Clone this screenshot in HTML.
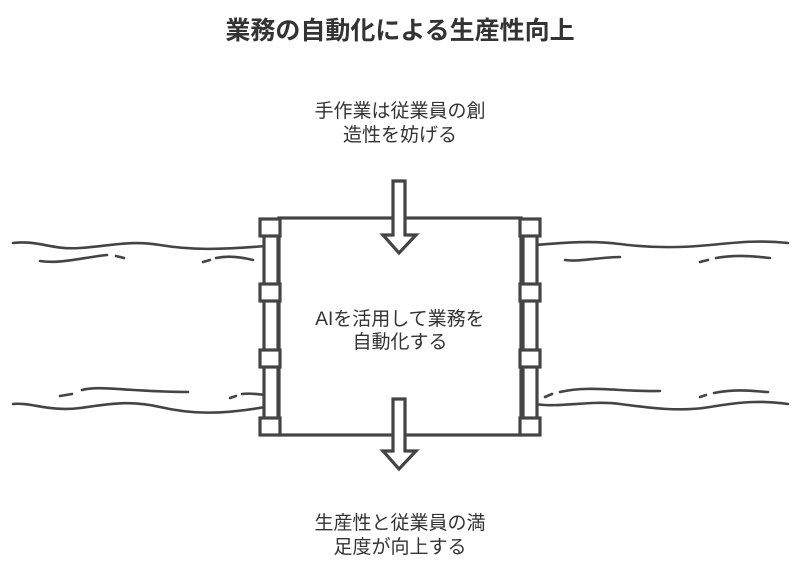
<!DOCTYPE html>
<html><head><meta charset="utf-8"><style>
body{margin:0;background:#fff;}
svg{display:block}
text{font-family:"Liberation Sans","Noto Sans CJK JP",sans-serif;fill:#333;text-anchor:middle}
</style></head><body>
<svg width="800" height="568" viewBox="0 0 800 568">
<g fill="none" stroke="#444" stroke-width="2.6" stroke-linecap="round">
<path d="M13 243 C40 240 50 250 80 248 S130 240 160 245 S220 250 265 246"/>
<path d="M40 261 C60 264 80 258 107 255 M116 256 L124 258 M203 262 L210 260 M216 258 C230 255 245 258 253 260"/>
<path d="M13 404 C30 402 50 412 80 408 S130 400 160 407 S220 415 265 407"/>
<path d="M60 396 L72 394 M82 390 C100 385 130 392 188 392 M230 398 L236 396 M242 394 C250 393 258 394 265 395"/>
<path d="M535 245 C560 243 590 240 620 244 S680 248 710 245 S760 240 788 243"/>
<path d="M565 260 C580 262 590 258 620 257 M700 262 L708 260 M716 258 C740 254 760 257 770 258"/>
<path d="M535 404 C560 408 590 400 620 404 S680 412 710 407 S760 400 788 404"/>
<path d="M545 397 L552 394 M560 392 C590 385 620 392 660 391 M700 397 L706 395 M714 393 C740 388 760 392 768 392"/>
</g>
<g fill="#fff" stroke="#444" stroke-width="3.2">
<rect x="279" y="218" width="242" height="217"/>
<rect x="264" y="222" width="14" height="210"/>
<rect x="523" y="222" width="14" height="210"/>
<rect x="260" y="219" width="20" height="17"/>
<rect x="260" y="284" width="20" height="17"/>
<rect x="260" y="350" width="20" height="17"/>
<rect x="260" y="418" width="20" height="17"/>
<rect x="520" y="219" width="20" height="17"/>
<rect x="520" y="284" width="20" height="17"/>
<rect x="520" y="350" width="20" height="17"/>
<rect x="520" y="418" width="20" height="17"/>
<path d="M393 181 L405 181 L405 235 L416 235 L399 253 L383 235 L393 235 Z"/>
<path d="M393 399 L405 399 L405 451 L416 451 L399 469 L383 451 L393 451 Z"/>
</g>
<text x="400" y="39" font-size="25" font-weight="bold">業務の自動化による生産性向上</text>
<text x="400" y="117" font-size="19">手作業は従業員の創</text>
<text x="400" y="141" font-size="19">造性を妨げる</text>
<text x="400" y="325" font-size="19">AIを活用して業務を</text>
<text x="400" y="348" font-size="19">自動化する</text>
<text x="400" y="529" font-size="19">生産性と従業員の満</text>
<text x="400" y="553" font-size="19">足度が向上する</text>
</svg>
</body></html>
